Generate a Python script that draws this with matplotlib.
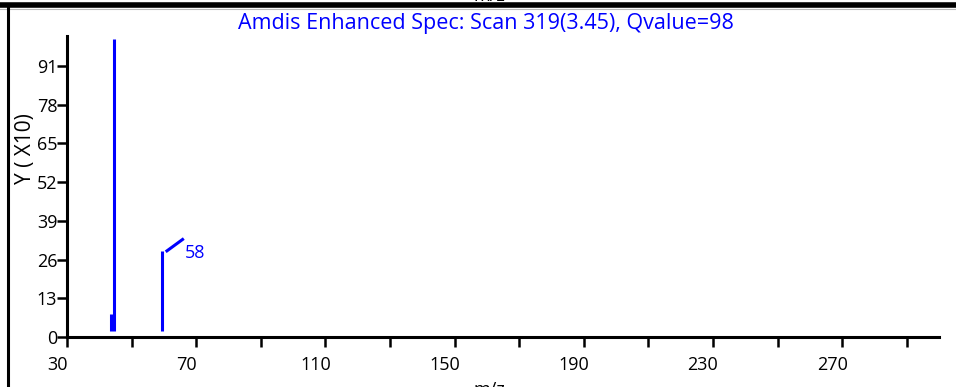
import matplotlib
matplotlib.use("Agg")
import matplotlib.pyplot as plt
import matplotlib.transforms as mtransforms
from matplotlib.lines import Line2D

# ---- data ----
mz = [43.7, 44.6, 59.4]
intensity = [7.7, 100.0, 28.9]
annot_mz = 59.4
annot_int = 28.9
annot_label = "58"
xticks_major = [30, 70, 110, 150, 190, 230, 270]
xticks_all = list(range(30, 300, 20))
yticks = [0, 13, 26, 39, 52, 65, 78, 91]
title = "Amdis Enhanced Spec: Scan 319(3.45), Qvalue=98"

BLUE = "#0000ff"
FONT = "Open Sans"
plt.rcParams['font.family'] = [FONT, 'DejaVu Sans']

W, H = 956, 387
fig = plt.figure(figsize=(W / 100, H / 100), dpi=100)
ax = fig.add_axes([67 / W, (H - 337) / H, (939 - 67) / W, (337 - 36) / H])

ax.vlines(mz, 2.0, intensity, colors=BLUE, linewidth=2.2)
ax.set_xlim(30, 300)
ax.set_ylim(0, 101)

for s in ['top', 'right']:
    ax.spines[s].set_visible(False)
for s in ['left', 'bottom']:
    ax.spines[s].set_linewidth(2.2)
    ax.spines[s].set_color('black')

ax.set_xticks(xticks_all)
ax.set_xticklabels([str(v) if v in xticks_major else '' for v in xticks_all])
ax.set_yticks(yticks)
ax.tick_params(axis='x', direction='out', length=7, width=1.8, pad=7, labelsize=13)
ax.tick_params(axis='y', direction='out', length=7, width=1.8, pad=0, labelsize=13)
off = mtransforms.ScaledTranslation(-10 / 100, 0, fig.dpi_scale_trans)
for lab in ax.get_xticklabels():
    lab.set_transform(lab.get_transform() + off)

# annotation label and leader line (offsets in pixels from the peak top)
ax.annotate(annot_label, xy=(annot_mz, annot_int), xycoords='data',
            xytext=(23, -2), textcoords='offset pixels',
            color=BLUE, fontsize=13, ha='left', va='center')
lead_tr = (mtransforms.Affine2D().translate(5, 0)
           + mtransforms.ScaledTranslation(annot_mz, annot_int, ax.transData))
fig.add_artist(Line2D([0, 15.6], [0, 11.4], color=BLUE, linewidth=2.2,
                      transform=lead_tr))

fig.text(486 / W, 1 - 23 / H, title, color=BLUE, fontsize=15.5, ha='center', va='center')
fig.text(25 / W, 1 - 149 / H, "Y ( X10)", rotation=90, fontsize=15, ha='center', va='center')
fig.text(489 / W, 1 - 395 / H, "m/z", fontsize=13, ha='center', va='baseline')
fig.text(489 / W, 1 - 1 / H, "m/z", fontsize=13, ha='center', va='baseline')

# outer frame pieces
fig.add_artist(Line2D([0, 1], [1 - 5 / H, 1 - 5 / H], color='black', linewidth=4.0,
                      transform=fig.transFigure))
fig.add_artist(Line2D([0, 1], [1 - 9 / H, 1 - 9 / H], color='#bbbbbb', linewidth=0.8,
                      transform=fig.transFigure))
fig.add_artist(Line2D([7.5 / W, 7.5 / W], [0, 1 - 5 / H], color='black', linewidth=2.2,
                      transform=fig.transFigure))

fig.savefig("out.png", dpi=100)
